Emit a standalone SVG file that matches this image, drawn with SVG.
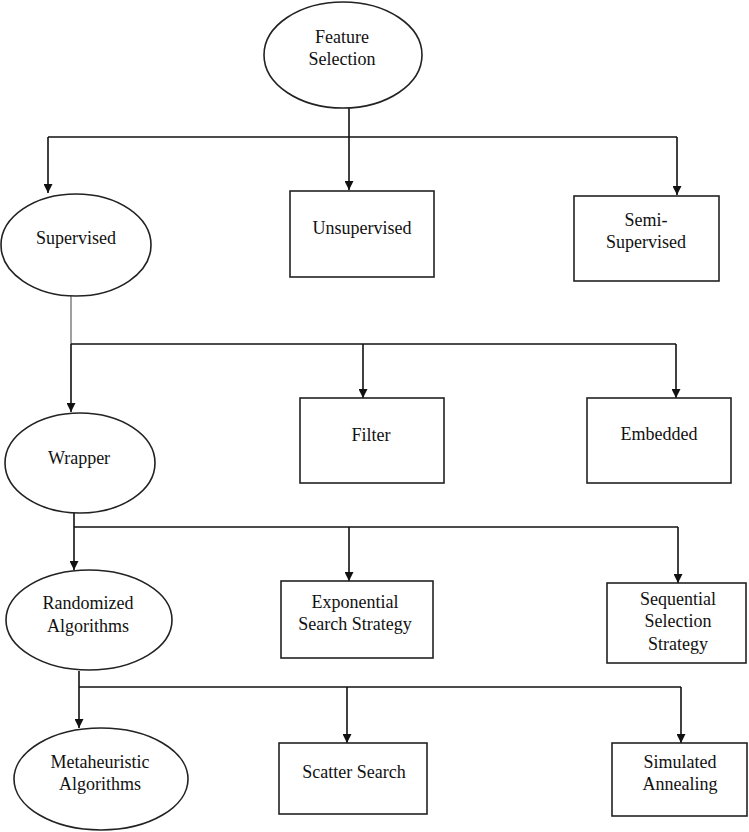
<svg xmlns="http://www.w3.org/2000/svg" width="749" height="832" viewBox="0 0 749 832">
<style>
.n{fill:#fff;stroke:#222;stroke-width:1.6}
.t{font-family:"Liberation Serif","Times New Roman",serif;font-size:18px;fill:#111;text-anchor:middle}
.c{fill:none;stroke:#111;stroke-width:1.6}
</style>
<defs>
<marker id="a" viewBox="0 0 10 10" refX="10" refY="5" markerWidth="9" markerHeight="9" markerUnits="userSpaceOnUse" orient="auto">
<path d="M0,0 L10,5 L0,10 Z" fill="#111"/>
</marker>
</defs>
<rect width="749" height="832" fill="#fff"/>
<g id="connectors">
<path class="c" d="M349,108 V137"/>
<path class="c" d="M48,137 H677"/>
<path class="c" d="M48,137 V193" marker-end="url(#a)"/>
<path class="c" d="M349,137 V190" marker-end="url(#a)"/>
<path class="c" d="M677,137 V195" marker-end="url(#a)"/>
<path class="c" d="M71,296 V344" style="stroke:#888"/>
<path class="c" d="M71,344 H676"/>
<path class="c" d="M71,344 V412" marker-end="url(#a)"/>
<path class="c" d="M363,344 V398" marker-end="url(#a)"/>
<path class="c" d="M676,344 V398" marker-end="url(#a)"/>
<path class="c" d="M74,513 V527"/>
<path class="c" d="M74,527 H678"/>
<path class="c" d="M74,527 V570" marker-end="url(#a)"/>
<path class="c" d="M349,527 V581" marker-end="url(#a)"/>
<path class="c" d="M678,527 V583" marker-end="url(#a)"/>
<path class="c" d="M79,671 V687"/>
<path class="c" d="M79,687 H681"/>
<path class="c" d="M79,687 V728" marker-end="url(#a)"/>
<path class="c" d="M347,687 V743" marker-end="url(#a)"/>
<path class="c" d="M681,687 V743" marker-end="url(#a)"/>
</g>
<g id="feature-selection">
<ellipse class="n" cx="343" cy="55" rx="79" ry="53"/>
<text class="t" x="342" y="43">Feature</text>
<text class="t" x="342" y="65">Selection</text>
</g>
<g id="supervised">
<ellipse class="n" cx="76" cy="245" rx="75" ry="51"/>
<text class="t" x="76" y="244">Supervised</text>
</g>
<g id="unsupervised">
<rect class="n" x="290" y="191" width="144" height="86"/>
<text class="t" x="362" y="234">Unsupervised</text>
</g>
<g id="semi-supervised">
<rect class="n" x="574" y="196" width="145" height="85"/>
<text class="t" x="646" y="226">Semi-</text>
<text class="t" x="646" y="248">Supervised</text>
</g>
<g id="wrapper">
<ellipse class="n" cx="80" cy="463" rx="75" ry="50"/>
<text class="t" x="79" y="464">Wrapper</text>
</g>
<g id="filter">
<rect class="n" x="300" y="398" width="144" height="85"/>
<text class="t" x="371" y="441">Filter</text>
</g>
<g id="embedded">
<rect class="n" x="587" y="398" width="144" height="85"/>
<text class="t" x="659" y="440">Embedded</text>
</g>
<g id="randomized">
<ellipse class="n" cx="89" cy="620" rx="83" ry="50"/>
<text class="t" x="88" y="609">Randomized</text>
<text class="t" x="88" y="632">Algorithms</text>
</g>
<g id="exponential">
<rect class="n" x="281" y="581" width="152" height="77"/>
<text class="t" x="355" y="608">Exponential</text>
<text class="t" x="355" y="630">Search Strategy</text>
</g>
<g id="sequential">
<rect class="n" x="607" y="583" width="139" height="80"/>
<text class="t" x="678" y="605">Sequential</text>
<text class="t" x="678" y="627">Selection</text>
<text class="t" x="678" y="650">Strategy</text>
</g>
<g id="metaheuristic">
<ellipse class="n" cx="101" cy="779" rx="87" ry="51"/>
<text class="t" x="100" y="768">Metaheuristic</text>
<text class="t" x="100" y="790">Algorithms</text>
</g>
<g id="scatter">
<rect class="n" x="279" y="743" width="148" height="71"/>
<text class="t" x="354" y="778">Scatter Search</text>
</g>
<g id="simulated">
<rect class="n" x="612" y="743" width="135" height="73"/>
<text class="t" x="680" y="768">Simulated</text>
<text class="t" x="680" y="790">Annealing</text>
</g>
</svg>
